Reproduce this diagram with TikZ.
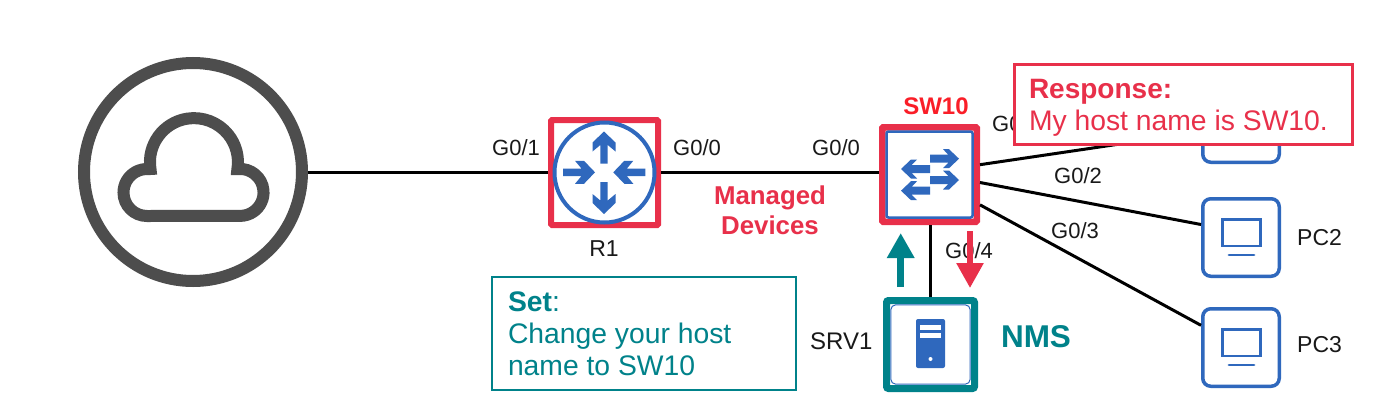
\documentclass[tikz,border=0pt]{standalone}
\usepackage{fontspec}
\setmainfont{Liberation Sans}
\usetikzlibrary{arrows.meta}
\definecolor{iconblue}{HTML}{2F68BD}
\definecolor{crim}{HTML}{E8304A}
\definecolor{swred}{HTML}{FA1E28}
\definecolor{tealc}{HTML}{00828A}
\definecolor{cloudgray}{HTML}{4D4D4D}
\tikzset{
  x=1pt,y=-1pt,
  lbl/.style={inner sep=0pt,font=\fontsize{22}{26}\selectfont,text=black!90},
  lblbig/.style={inner sep=0pt,font=\fontsize{23}{26}\selectfont,text=black!90},
  lblw/.style={lbl,anchor=west},
  lblbigw/.style={lblbig,anchor=west},
  linkline/.style={draw=black,line width=3pt},
  pcbox/.style={draw=iconblue,line width=3.5pt,rounded corners=8pt,fill=white,inner sep=0pt,minimum width=76.5pt,minimum height=77.5pt},
  routerbox/.style={draw=crim,line width=6pt,rounded corners=1pt,fill=white,inner sep=0pt,minimum width=107pt,minimum height=105pt},
  switchbox/.style={draw=crim,line width=6.5pt,rounded corners=1pt,fill=white,inner sep=0pt,minimum width=94.5pt,minimum height=94.5pt},
  serverbox/.style={draw=tealc,line width=7pt,rounded corners=2pt,fill=white,inner sep=0pt,minimum width=88pt,minimum height=88pt},
  cloudring/.style={circle,draw=cloudgray,line width=12pt,fill=white,inner sep=0pt,minimum size=218pt},
  routerarrow/.pic={\fill[iconblue] (0,0)--(-11,11.5)--(-20,11.5)--(-13.5,3.7)--(-32,3.7)--(-32,-3.7)--(-13.5,-3.7)--(-20,-11.5)--(-11,-11.5)--cycle;},
  switcharrow/.pic={\fill[iconblue] (0,0)--(-10,9.5)--(-16,9.5)--(-10.7,4)--(-29,4)--(-29,-4)--(-10.7,-4)--(-16,-9.5)--(-10,-9.5)--cycle;},
  pcicon/.pic={\draw[iconblue,line width=2.5pt] (-18.5,-18) rectangle (19.5,8.5);
    \draw[iconblue,line width=2.8pt,line cap=round] (-12,17.5) -- (13,17.5);},
  flowup/.style={line width=6.5pt,-{Triangle[length=25pt,width=26pt]}},
  calloutred/.style={draw=crim,line width=3pt,fill=white,inner sep=0pt,align=flush left,text=crim,minimum width=338pt,minimum height=80pt,text width=308pt},
  calloutteal/.style={draw=tealc,line width=2.5pt,fill=white,inner sep=0pt,align=flush left,text=tealc,minimum width=304pt,minimum height=113pt,text width=272pt},
}
\begin{document}
\begin{tikzpicture}
\useasboundingbox (0,0) rectangle (1395,407);
\fill[white] (0,0) rectangle (1395,407);

% devices
\node[cloudring] (cloud) at (193,172) {};
\draw[cloudgray,line width=12pt,line join=miter]
  (147,216) arc[start angle=90,end angle=275,radius=23.5]
  -- (150.5,169) arc[start angle=171,end angle=369,radius=44]
  -- (238,169) arc[start angle=265,end angle=450,radius=23.5]
  -- cycle;

\node[routerbox] (r1) at (604.5,172.5) {};
\draw[iconblue,line width=4pt] (r1.center) circle[radius=50];
\pic at (604,131.5) [rotate=90] {routerarrow};
\pic at (604,214) [rotate=-90] {routerarrow};
\pic at (595,172.3) {routerarrow};
\pic at (613.3,172.3) [rotate=180] {routerarrow};

\node[switchbox] (sw) at (929.5,174.5) {};
\draw[iconblue,line width=2.5pt,rounded corners=2pt] (886.5,131.5) rectangle (972.5,217.5);
\pic at (959,158.7) {switcharrow};
\pic at (959,180) {switcharrow};
\pic at (901,169) [rotate=180] {switcharrow};
\pic at (901,190.7) [rotate=180] {switcharrow};

\node[serverbox] (srv) at (930.5,344.5) {};
\draw[iconblue,line width=1pt,rounded corners=5pt] (890.8,304.8) rectangle (970.2,384.2);
\fill[iconblue,rounded corners=2pt] (916,319) rectangle (945,368);
\fill[white] (920,325) rectangle (941,330);
\fill[white] (920,333) rectangle (941,338);
\fill[white] (930.5,359) circle[radius=2];

\node[pcbox] (pc1) at (1241,123.5) {};
\pic at (pc1.center) {pcicon};
\node[pcbox] (pc2) at (1241,237.5) {};
\pic at (pc2.center) {pcicon};
\node[pcbox] (pc3) at (1241,347.5) {};
\pic at (pc3.center) {pcicon};

% links
\draw[linkline] (cloud.east) -- (r1.west |- cloud.east);
\draw[linkline] (r1.east |- cloud.east) -- (sw.west |- cloud.east);
\draw[linkline] (sw.11.7) -- (pc1.192);
\draw[linkline] (sw.-9.5) -- (pc2.162.6);
\draw[linkline] (sw.-31) -- (pc3.151.7);
\draw[linkline] (srv.north |- sw.south) -- (srv.north);

% labels
\node[lbl] (l1) at (516,148) {G0/1};
\node[lbl] (l2) at (697,148) {G0/0};
\node[lbl] (l3) at (836,148) {G0/0};
\node[lblbig] (r1name) at (604,249) {R1};
\node[lblw] (l4) at (992,124) {G0/1};
\node[lblw] (l5) at (1054,176) {G0/2};
\node[lblw] (l6) at (1051,231) {G0/3};
\node[lblw] (l7) at (945,251) {G0/4};
\node[lblbigw,font=\fontsize{24}{26}\selectfont] (srvname) at (810,341) {SRV1};
\node[lblbigw] (pc2name) at (1297,238) {PC2};
\node[lblbigw] (pc3name) at (1297,344.5) {PC3};
\node[inner sep=0pt,text=swred,font=\fontsize{24}{28}\bfseries\selectfont] (swname) at (936,106) {SW10};
\node[inner sep=0pt,text=crim,align=center,font=\fontsize{25.8}{30}\bfseries\selectfont] (managed) at (770,210) {Managed\\Devices};
\node[inner sep=0pt,text=tealc,font=\fontsize{31.5}{36}\bfseries\selectfont] (nms) at (1036,337) {NMS};

% flow arrows
\coordinate (tealstart) at (900.7,287);
\coordinate (tealend) at (900.7,233);
\coordinate (redstart) at (970,231);
\coordinate (redend) at (970,288);
\draw[flowup,draw=tealc,tealc] (tealstart) -- (tealend);
\draw[flowup,draw=crim,crim,line width=5.7pt] (redstart) -- (redend);

% callouts
\node[calloutred,font=\fontsize{28.3}{32}\selectfont] (resp) at (1183,104)
  {\rule{0pt}{26pt}{\fontsize{28}{32}\bfseries\selectfont Response:}\\My host name is SW10.};
\node[calloutteal,font=\fontsize{28.3}{32}\selectfont] (setbox) at (644,333.5)
  {{\bfseries Set}:\\Change your host\\name to SW10};
\end{tikzpicture}
\end{document}
